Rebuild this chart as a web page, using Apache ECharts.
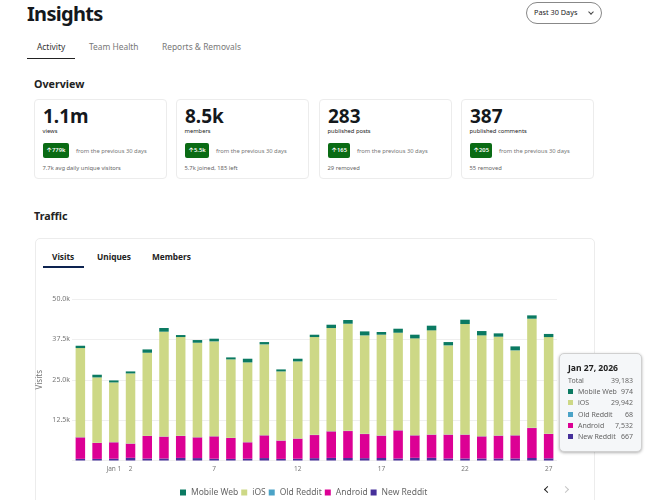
<!DOCTYPE html>
<html>
<head>
<meta charset="utf-8">
<title>Insights</title>
<script src="https://cdn.jsdelivr.net/npm/echarts@6/dist/echarts.min.js"></script>
<style>
  html, body { margin: 0; padding: 0; background: #fff; overflow: hidden; }
  body { width: 646px; height: 500px; position: relative; font-family: "Noto Sans", sans-serif; color: #14181c; }
  .t { position: absolute; white-space: nowrap; line-height: 1; }
  .card { position: absolute; top: 99px; width: 131px; height: 78px; border: 1px solid #ececec; border-radius: 4px; box-sizing: content-box; }
  .big { left: 8px; top: 7px; font-size: 19px; font-weight: 700; }
  .lab { left: 7.5px; top: 29px; font-size: 5.8px; color: #222; }
  .badge { position: absolute; left: 8px; top: 43px; height: 15px; padding: 0 3.5px; background: #0a6b14; border-radius: 2px; color: #fff; font-size: 5.8px; font-weight: 600; line-height: 15px; white-space: nowrap; }
  .from { top: 48.5px; font-size: 5.8px; color: #777; }
  .foot { left: 7.5px; top: 65.5px; font-size: 5.8px; color: #666; }
  #main { position: absolute; left: 0; top: 0; width: 646px; height: 500px; }
  .chev { position: absolute; width: 4px; height: 4px; border-left: 1.5px solid #222; border-bottom: 1.5px solid #222; transform: rotate(45deg); }
</style>
</head>
<body>
<div class="t" style="left:27px;top:4px;font-size:20px;font-weight:700;letter-spacing:-0.7px;">Insights</div>
<div class="t" style="left:37px;top:42.5px;font-size:8.4px;color:#333;">Activity</div>
<div class="t" style="left:89px;top:42.5px;font-size:8.4px;color:#777;">Team Health</div>
<div class="t" style="left:162px;top:42.5px;font-size:8.4px;color:#777;">Reports &amp; Removals</div>
<div style="position:absolute;left:27px;top:57.5px;width:48px;height:1.5px;background:#222;"></div>

<div style="position:absolute;left:526px;top:2px;width:74px;height:20px;border:1px solid #888;border-radius:11px;"></div>
<div class="t" style="left:534px;top:9px;font-size:7.3px;color:#222;">Past 30 Days</div>
<div style="position:absolute;left:589px;top:10px;width:3px;height:3px;border-right:1px solid #444;border-bottom:1px solid #444;transform:rotate(45deg);"></div>

<div class="t" style="left:34px;top:79px;font-size:10.7px;font-weight:700;color:#222;">Overview</div>

<div class="card" style="left:34px;">
  <div class="t big">1.1m</div><div class="t lab">views</div>
  <div class="badge">🡡 779k</div><div class="t from" style="left:41px;">from the previous 30 days</div>
  <div class="t foot">7.7k avg daily unique visitors</div>
</div>
<div class="card" style="left:176px;">
  <div class="t big">8.5k</div><div class="t lab">members</div>
  <div class="badge">🡡 5.5k</div><div class="t from" style="left:39px;">from the previous 30 days</div>
  <div class="t foot">5.7k joined, 185 left</div>
</div>
<div class="card" style="left:319px;">
  <div class="t big">283</div><div class="t lab">published posts</div>
  <div class="badge">🡡 165</div><div class="t from" style="left:37px;">from the previous 30 days</div>
  <div class="t foot">29 removed</div>
</div>
<div class="card" style="left:461px;">
  <div class="t big">387</div><div class="t lab">published comments</div>
  <div class="badge">🡡 205</div><div class="t from" style="left:37px;">from the previous 30 days</div>
  <div class="t foot">55 removed</div>
</div>

<div class="t" style="left:34px;top:211px;font-size:10.7px;font-weight:700;color:#222;">Traffic</div>
<div style="position:absolute;left:35px;top:238px;width:558px;height:280px;border:1px solid #ececec;border-radius:5px;"></div>
<div class="t" style="left:52px;top:252.5px;font-size:8.3px;font-weight:700;color:#222;">Visits</div>
<div class="t" style="left:97px;top:252.5px;font-size:8.3px;font-weight:700;color:#222;">Uniques</div>
<div class="t" style="left:152px;top:252.5px;font-size:8.3px;font-weight:700;color:#222;">Members</div>
<div style="position:absolute;left:43px;top:266px;width:41px;height:2px;background:#0d2350;"></div>

<div id="main"></div>
<div class="chev" style="left:545px;top:487px;"></div>
<div class="chev" style="left:563px;top:487px;transform:rotate(225deg);border-color:#c4c4c4;"></div>

<script type="text/javascript">
    var dates = ['Dec 30', 'Dec 31', 'Jan 1', 'Jan 2', 'Jan 3', 'Jan 4', 'Jan 5', 'Jan 6', 'Jan 7', 'Jan 8',
        'Jan 9', 'Jan 10', 'Jan 11', 'Jan 12', 'Jan 13', 'Jan 14', 'Jan 15', 'Jan 16', 'Jan 17', 'Jan 18',
        'Jan 19', 'Jan 20', 'Jan 21', 'Jan 22', 'Jan 23', 'Jan 24', 'Jan 25', 'Jan 26', 'Jan 27'];
    // only these dates get a label on the x axis
    var tickLabels = {'Jan 1': 'Jan 1', 'Jan 2': '2', 'Jan 7': '7', 'Jan 12': '12', 'Jan 17': '17', 'Jan 22': '22', 'Jan 27': '27'};

    var newReddit = [520, 500, 560, 830, 600, 620, 800, 750, 560, 500, 560, 750, 500, 560, 720, 800, 780, 720, 780, 620, 830, 830, 620, 620, 620, 620, 620, 780, 667];
    var android = [6650, 4925, 5070, 4380, 6980, 6760, 6780, 6420, 6920, 6460, 5070, 7040, 5650, 6200, 7160, 8220, 8340, 7470, 6900, 8710, 6950, 7160, 7370, 7370, 6850, 7060, 7160, 9270, 7532];
    var oldReddit = [60, 50, 50, 60, 60, 60, 60, 60, 60, 60, 50, 60, 50, 60, 70, 70, 70, 70, 70, 70, 70, 70, 70, 70, 70, 70, 70, 70, 68];
    var ios = [27580, 20250, 18490, 21690, 25720, 32440, 30580, 29230, 29340, 24280, 24690, 28100, 21380, 23860, 30270, 31920, 33160, 30470, 31200, 30160, 29960, 32230, 27580, 34190, 31200, 30580, 26240, 33780, 29942];
    var mobileWeb = [720, 830, 620, 620, 1030, 1140, 620, 830, 830, 620, 1140, 720, 620, 830, 720, 1030, 1140, 1240, 830, 1240, 1140, 1450, 1030, 1340, 1340, 1030, 1240, 1030, 974];

    var legendNames = ['Mobile Web', 'iOS', 'Old Reddit', 'Android', 'New Reddit'];
    var colors = {'Mobile Web': '#0b7a62', 'iOS': '#cdd886', 'Old Reddit': '#4ba3c7', 'Android': '#dc0094', 'New Reddit': '#46309a'};

    function barSeries(name, values) {
        return {
            name: name,
            type: 'bar',
            stack: 'visits',
            barWidth: 9.5,
            data: values,
            itemStyle: {color: colors[name]},
            emphasis: {disabled: true}
        };
    }

    function tipHtml(params) {
        var rows = params.slice().reverse();
        var total = 0;
        rows.forEach(function (p) { total += p.value; });
        var row = function (swatch, name, value) {
            return '<div style="display:flex;align-items:center;height:11.2px;">' + swatch +
                '<span>' + name + '</span><span style="margin-left:auto;">' + value.toLocaleString('en-US') + '</span></div>';
        };
        var html = '<div style="font-weight:700;font-size:8.6px;color:#222;line-height:12px;margin-bottom:1px;">' + params[0].name + ', 2026</div>';
        html += row('', 'Total', total);
        rows.forEach(function (p) {
            html += row('<span style="width:5px;height:5px;background:' + p.color + ';margin-right:5px;"></span>', p.seriesName, p.value);
        });
        return html;
    }

    var myChart = echarts.init(document.getElementById('main'), null, {renderer: 'canvas'});
    myChart.setOption({
        animation: false,
        backgroundColor: 'transparent',
        textStyle: {fontFamily: '"Noto Sans", sans-serif'},
        grid: {left: 72, right: 89, top: 299, bottom: 39.5},
        legend: {
            data: legendNames,
            top: 483,
            left: 175,
            icon: 'rect',
            itemWidth: 6,
            itemHeight: 6,
            itemGap: 3,
            textStyle: {fontSize: 8.5, color: '#666'}
        },
        tooltip: {
            trigger: 'axis',
            alwaysShowContent: true,
            transitionDuration: 0,
            axisPointer: {type: 'none'},
            position: [559, 353],
            padding: [8, 8, 6, 8],
            backgroundColor: '#f5f7f9',
            borderColor: '#d0d0d0',
            borderWidth: 1,
            extraCssText: 'width:83px;height:99px;box-sizing:border-box;border-radius:5px;box-shadow:0 1px 3px rgba(0,0,0,.3);',
            textStyle: {fontSize: 7, color: '#666', fontFamily: '"Noto Sans", sans-serif'},
            formatter: tipHtml
        },
        xAxis: {
            type: 'category',
            data: dates,
            axisLine: {show: false},
            axisTick: {show: false},
            axisLabel: {
                fontSize: 6.5,
                color: '#777',
                margin: 5,
                interval: function (index, value) { return tickLabels[value] !== undefined; },
                formatter: function (value) { return tickLabels[value]; }
            }
        },
        yAxis: {
            type: 'value',
            min: 0,
            max: 50000,
            interval: 12500,
            name: 'Visits',
            nameLocation: 'middle',
            nameGap: 28,
            nameMoveOverlap: false,
            nameTextStyle: {fontSize: 8, color: '#777'},
            axisLabel: {
                fontSize: 7,
                color: '#777',
                margin: 2,
                formatter: function (v) { return v === 0 ? '' : (v / 1000).toFixed(1) + 'k'; }
            },
            splitLine: {lineStyle: {color: '#efefef', width: 1}}
        },
        series: [
            barSeries('New Reddit', newReddit),
            barSeries('Android', android),
            barSeries('Old Reddit', oldReddit),
            barSeries('iOS', ios),
            barSeries('Mobile Web', mobileWeb)
        ]
    });
    myChart.dispatchAction({type: 'showTip', seriesIndex: 0, dataIndex: dates.length - 1});
</script>
</body>
</html>
